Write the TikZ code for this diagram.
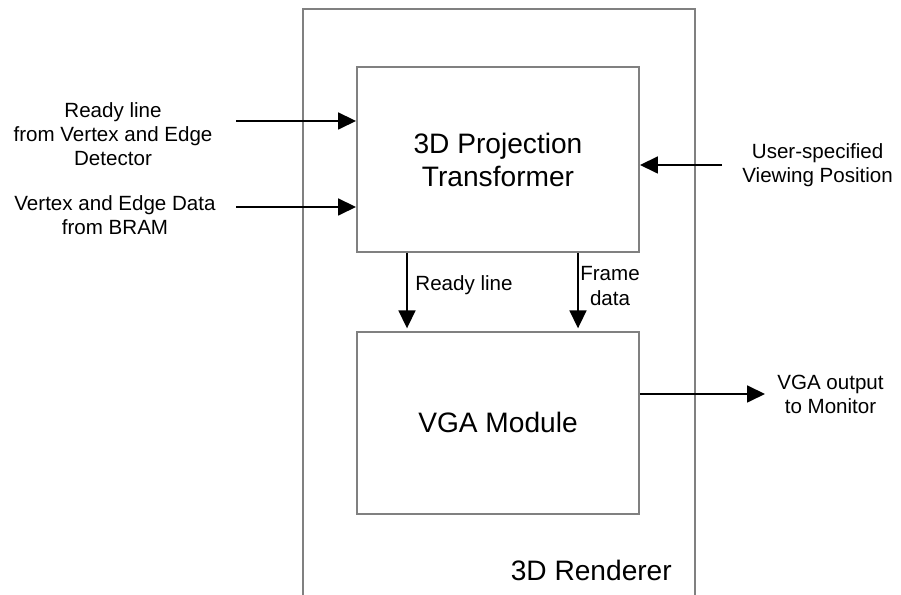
\documentclass[tikz,border=0pt]{standalone}
\usepackage{fontspec}
\setmainfont{Liberation Sans}
\usetikzlibrary{arrows.meta, positioning}
\tikzset{
    block/.style={
        rectangle, draw=black!50, line width=1.1pt,
        minimum width=5.64cm, minimum height=3.7cm,
        fill=white, align=center,
        font=\fontsize{16}{18.8}\selectfont
    },
    enclosure/.style={
        rectangle, draw=black!50, line width=1.1pt,
        minimum width=7.84cm, minimum height=13cm
    },
    wire/.style={draw=black, line width=1pt, -{Triangle[length=0.36cm, width=0.34cm]}},
    sig/.style={font=\fontsize{11.7}{13.7}\selectfont, align=center, inner sep=0pt}
}

\begin{document}
\begin{tikzpicture}
\clip (0,0) rectangle (18.02,11.9);

% Renderer enclosure, open towards the bottom
\node[enclosure] (renderer) at (9.98,5.22) {};
\node[font=\fontsize{16}{18.8}\selectfont, anchor=east] (rname) at (13.56,0.5) {3D Renderer};

% Blocks
\node[block] (proj) at (9.96,8.71) {3D Projection\\Transformer};
\node[block, minimum height=3.64cm, below=1.56cm of proj] (vga) {VGA Module};

% Free ends of the external signals
\coordinate (rdyin) at (4.72,9.48);
\coordinate (datain) at (4.72,7.76);
\coordinate (viewin) at (14.44,8.6);
\coordinate (vgaout) at (15.3,4.02);

% Signal labels
\node[sig] (rdytxt) at (2.26,9.22) {Ready line\\from Vertex and Edge\\Detector};
\node[sig] (datatxt) at (2.3,7.6) {Vertex and Edge Data\\from BRAM};
\node[sig, right=0.4cm of viewin] (viewtxt) {User-specified\\Viewing Position};
\node[sig, right=0.24cm of vgaout] (vgatxt) {VGA output\\to Monitor};
\node[sig] (rdyint) at (9.28,6.2) {Ready line};
\node[sig] (frametxt) at (12.2,6.18) {Frame\\data};

% Inputs
\draw[wire] (rdyin) -- (rdyin -| proj.west);
\draw[wire] (datain) -- (datain -| proj.west);
\draw[wire] (viewin) -- (viewin -| proj.east);

% Projection to VGA
\draw[wire, shorten >=1.5pt] ([xshift=-1.82cm]proj.south) -- ([xshift=-1.82cm]vga.north);
\draw[wire, shorten >=1.5pt] ([xshift=1.6cm]proj.south) -- ([xshift=1.6cm]vga.north);

% Output
\draw[wire] (vga.east |- vgaout) -- (vgaout);

\end{tikzpicture}
\end{document}
